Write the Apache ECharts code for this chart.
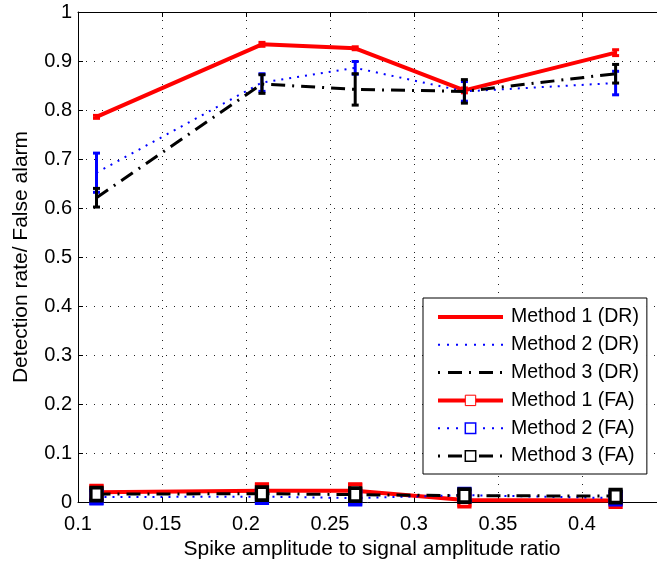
<!DOCTYPE html>
<html>
<head>
<meta charset="utf-8">
<script src="https://cdn.jsdelivr.net/npm/echarts@6/dist/echarts.min.js"></script>
<style>
  html, body { margin: 0; padding: 0; background: #fff; }
  #chart { width: 657px; height: 563px; }
</style>
</head>
<body>
<div id="chart"></div>
<script>
// Spike amplitude / signal amplitude ratios at which the methods were evaluated
const ratios = [0.111, 0.2095, 0.265, 0.33, 0.42];

// Detection rate (mean and half-width of the error bar)
const drMethod1 = [0.786, 0.934, 0.926, 0.840, 0.917];
const drMethod1Err = [0.003, 0.004, 0.003, 0.005, 0.006];
const drMethod2 = [0.672, 0.856, 0.886, 0.838, 0.855];
const drMethod2Err = [0.040, 0.018, 0.013, 0.020, 0.024];
const drMethod3 = [0.621, 0.853, 0.842, 0.838, 0.874];
const drMethod3Err = [0.019, 0.019, 0.032, 0.024, 0.019];

// False alarm (mean and half-width of the error bar)
const faMethod1 = [0.020, 0.023, 0.023, 0.004, 0.003];
const faMethod1Err = [0.013, 0.013, 0.013, 0.011, 0.009];
const faMethod2 = [0.010, 0.011, 0.008, 0.014, 0.008];
const faMethod2Err = [0.013, 0.012, 0.012, 0.012, 0.010];
const faMethod3 = [0.016, 0.017, 0.015, 0.013, 0.012];
const faMethod3Err = [0.012, 0.012, 0.012, 0.011, 0.010];

// Axis ticks
const xTicks = { min: 0.1, max: 0.45, step: 0.05 };
const yTicks = { min: 0, max: 1, step: 0.1 };

const FONT = '"Liberation Sans", Arial, Helvetica, sans-serif';
const RED = '#ff0000', BLUE = '#0000ff', BLACK = '#000000';

function points(vals) { return ratios.map((x, i) => [x, vals[i]]); }
function errPoints(vals, errs) { return ratios.map((x, i) => [x, vals[i], errs[i]]); }

// Vertical error bar with horizontal caps, positioned through the axes
function errorBars(name, vals, errs, color, capWidth, lineWidth, z) {
  return {
    type: 'custom',
    name: name + ' err',
    z: z,
    silent: true,
    data: errPoints(vals, errs),
    encode: { x: 0, y: 1 },
    renderItem: function (params, api) {
      const x = api.value(0), y = api.value(1), e = api.value(2);
      const top = api.coord([x, y + e]);
      const bot = api.coord([x, y - e]);
      const hw = capWidth / 2;
      const style = { stroke: color, lineWidth: lineWidth, fill: null };
      return {
        type: 'group',
        children: [
          { type: 'line', shape: { x1: top[0], y1: top[1], x2: bot[0], y2: bot[1] }, style: style },
          { type: 'line', shape: { x1: top[0] - hw, y1: top[1], x2: top[0] + hw, y2: top[1] }, style: style },
          { type: 'line', shape: { x1: bot[0] - hw, y1: bot[1], x2: bot[0] + hw, y2: bot[1] }, style: style }
        ]
      };
    }
  };
}

const solid = { color: RED, width: 4, type: 'solid' };
const dotted = { color: BLUE, width: 2, type: [2, 6] };
const dashDot = { color: BLACK, width: 3, type: [14, 7, 2, 7] };

function lineSeries(name, vals, style, withMarker, z) {
  return {
    type: 'line',
    name: name,
    z: z,
    data: points(vals),
    symbol: withMarker ? 'rect' : 'none',
    symbolSize: withMarker ? [11, 13] : 0,
    showSymbol: withMarker,
    itemStyle: { color: '#fff', borderColor: style.color, borderWidth: 3.5 },
    lineStyle: style,
    color: style.color,
    animation: false,
    silent: true
  };
}

const series = [
  lineSeries('Method 1 (DR)', drMethod1, solid, false, 2),
  errorBars('Method 1 (DR)', drMethod1, drMethod1Err, RED, 7, 3, 2),
  lineSeries('Method 2 (DR)', drMethod2, dotted, false, 3),
  errorBars('Method 2 (DR)', drMethod2, drMethod2Err, BLUE, 7, 3, 3),
  lineSeries('Method 3 (DR)', drMethod3, dashDot, false, 4),
  errorBars('Method 3 (DR)', drMethod3, drMethod3Err, BLACK, 7, 3, 4),
  lineSeries('Method 1 (FA)', faMethod1, solid, true, 5),
  errorBars('Method 1 (FA)', faMethod1, faMethod1Err, RED, 14, 3, 5),
  lineSeries('Method 2 (FA)', faMethod2, dotted, true, 6),
  errorBars('Method 2 (FA)', faMethod2, faMethod2Err, BLUE, 14, 3, 6),
  lineSeries('Method 3 (FA)', faMethod3, dashDot, true, 7),
  errorBars('Method 3 (FA)', faMethod3, faMethod3Err, BLACK, 14, 3, 7)
];

const gridLine = { show: true, lineStyle: { color: '#222', width: 1, type: [1, 7] } };
const fmt = v => String(+v.toFixed(2));

// Legend entries: DR lines carry no marker, FA lines carry a hollow square
const hiddenMarker = { color: 'rgba(0,0,0,0)', borderColor: 'rgba(0,0,0,0)', borderWidth: 0 };
const legendEntries = [
  { name: 'Method 1 (DR)', itemStyle: hiddenMarker, lineStyle: { color: RED, width: 4, type: 'solid' } },
  { name: 'Method 2 (DR)', itemStyle: hiddenMarker, lineStyle: { color: BLUE, width: 2, type: [2, 7] } },
  { name: 'Method 3 (DR)', itemStyle: hiddenMarker, lineStyle: { color: BLACK, width: 3, type: [2, 8, 14, 7] } },
  { name: 'Method 1 (FA)', itemStyle: { color: '#fff', borderColor: RED, borderWidth: 1 }, lineStyle: { color: RED, width: 4, type: 'solid' } },
  { name: 'Method 2 (FA)', itemStyle: { color: '#fff', borderColor: BLUE, borderWidth: 1.5 }, lineStyle: { color: BLUE, width: 2, type: [2, 7] } },
  { name: 'Method 3 (FA)', itemStyle: { color: '#fff', borderColor: BLACK, borderWidth: 1.5 }, lineStyle: { color: BLACK, width: 3, type: [2, 8, 14, 7] } }
];

const chart = echarts.init(document.getElementById('chart'), null, { renderer: 'canvas' });
chart.setOption({
  backgroundColor: '#ffffff',
  animation: false,
  textStyle: { fontFamily: FONT },
  grid: { left: 78, top: 12, right: -9, bottom: 61, containLabel: false, outerBoundsMode: 'none' },
  xAxis: [{
    type: 'value', min: xTicks.min, max: xTicks.max, interval: xTicks.step,
    position: 'bottom',
    name: 'Spike amplitude to signal amplitude ratio',
    nameLocation: 'middle', nameGap: 32,
    nameTextStyle: { fontSize: 21, color: BLACK, fontFamily: FONT },
    axisLine: { show: true, onZero: false, lineStyle: { color: BLACK, width: 1 } },
    axisTick: { show: true, inside: true, length: 5, lineStyle: { color: BLACK } },
    axisLabel: { fontSize: 20, color: BLACK, margin: 12, formatter: fmt, fontFamily: FONT, showMaxLabel: false },
    splitLine: gridLine
  }, {
    type: 'value', min: xTicks.min, max: xTicks.max, interval: xTicks.step,
    position: 'top',
    axisLine: { show: true, onZero: false, lineStyle: { color: BLACK, width: 1 } },
    axisTick: { show: true, inside: true, length: 5, lineStyle: { color: BLACK } },
    axisLabel: { show: false },
    splitLine: { show: false }
  }],
  yAxis: [{
    type: 'value', min: yTicks.min, max: yTicks.max, interval: yTicks.step,
    position: 'left',
    name: 'Detection rate/ False alarm',
    nameLocation: 'middle', nameGap: 46, nameRotate: 90,
    nameTextStyle: { fontSize: 21, color: BLACK, fontFamily: FONT },
    axisLine: { show: true, onZero: false, lineStyle: { color: BLACK, width: 1 } },
    axisTick: { show: true, inside: true, length: 5, lineStyle: { color: BLACK } },
    axisLabel: { fontSize: 20, color: BLACK, margin: 6, formatter: fmt, fontFamily: FONT },
    splitLine: gridLine
  }],
  legend: {
    show: true,
    orient: 'vertical',
    left: 423, top: 298,
    padding: [9, 8, 8, 13],
    itemGap: 7.8,
    itemWidth: 65, itemHeight: 13,
    backgroundColor: '#ffffff',
    borderColor: BLACK, borderWidth: 1,
    textStyle: { fontSize: 19.5, color: BLACK, fontFamily: FONT, lineHeight: 20, padding: [0, 0, 0, 3] },
    data: legendEntries,
    selectedMode: false
  },
  series: series
});
</script>
</body>
</html>
